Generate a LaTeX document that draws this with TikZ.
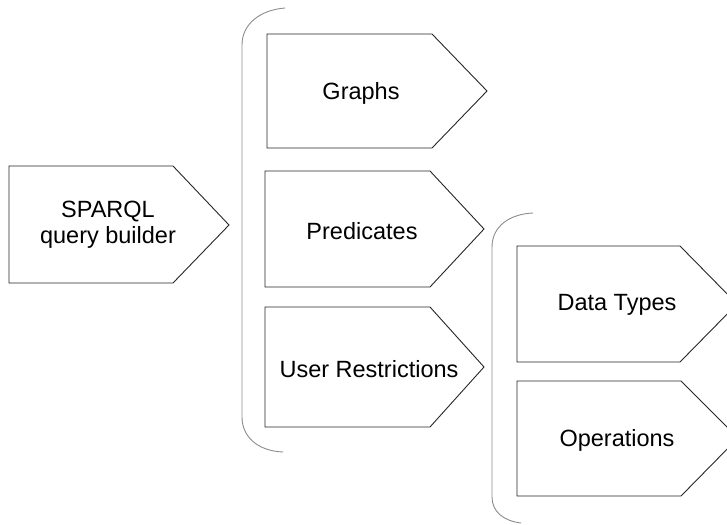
\documentclass[tikz,border=0pt]{standalone}
\usepackage{fontspec}
\setmainfont{Liberation Sans}
\begin{document}
\begin{tikzpicture}[x=1pt,y=-1pt,
  shapebox/.style={draw=black!85,line width=0.9pt,fill=white,line join=miter},
  bracketline/.style={draw=black!45,line width=0.9pt},
  lbl/.style={font=\fontsize{23.5}{26}\selectfont,align=center,inner sep=0pt}]
\useasboundingbox (0,0) rectangle (727,524);
\clip (0,0) rectangle (727,524);
% brackets
\draw[bracketline] (285,8) .. controls (260,10) and (242,24) .. (242,45) -- (242,417) .. controls (242,437) and (258,451) .. (283,452);
\draw[bracketline] (533,213) .. controls (510,214) and (492,226) .. (492,247) -- (492,497) .. controls (492,512) and (504,521) .. (521,523);
% shapes
\draw[shapebox] (9,166) -- (173,166) -- (229,225) -- (173,283) -- (9,283) -- cycle;
\draw[shapebox] (267,34) -- (432,34) -- (487,91) -- (432,148) -- (267,148) -- cycle;
\draw[shapebox] (265,171) -- (430,171) -- (484,229) -- (430,287) -- (265,287) -- cycle;
\draw[shapebox] (265,307) -- (430,307) -- (484,367) -- (430,427) -- (265,427) -- cycle;
\draw[shapebox] (517,246) -- (680,246) -- (737,304) -- (680,362) -- (517,362) -- cycle;
\draw[shapebox] (517,381) -- (681,381) -- (738,438) -- (681,496) -- (517,496) -- cycle;
% labels
\node[lbl] (sparql) at (108,225) {SPARQL\\query builder};
\node[lbl] (graphs) at (361,93) {Graphs};
\node[lbl] (pred) at (362,231) {Predicates};
\node[lbl] (user) at (369,369) {User Restrictions};
\node[lbl] (dtypes) at (617,305) {Data Types};
\node[lbl] (ops) at (617,440) {Operations};
\end{tikzpicture}
\end{document}
